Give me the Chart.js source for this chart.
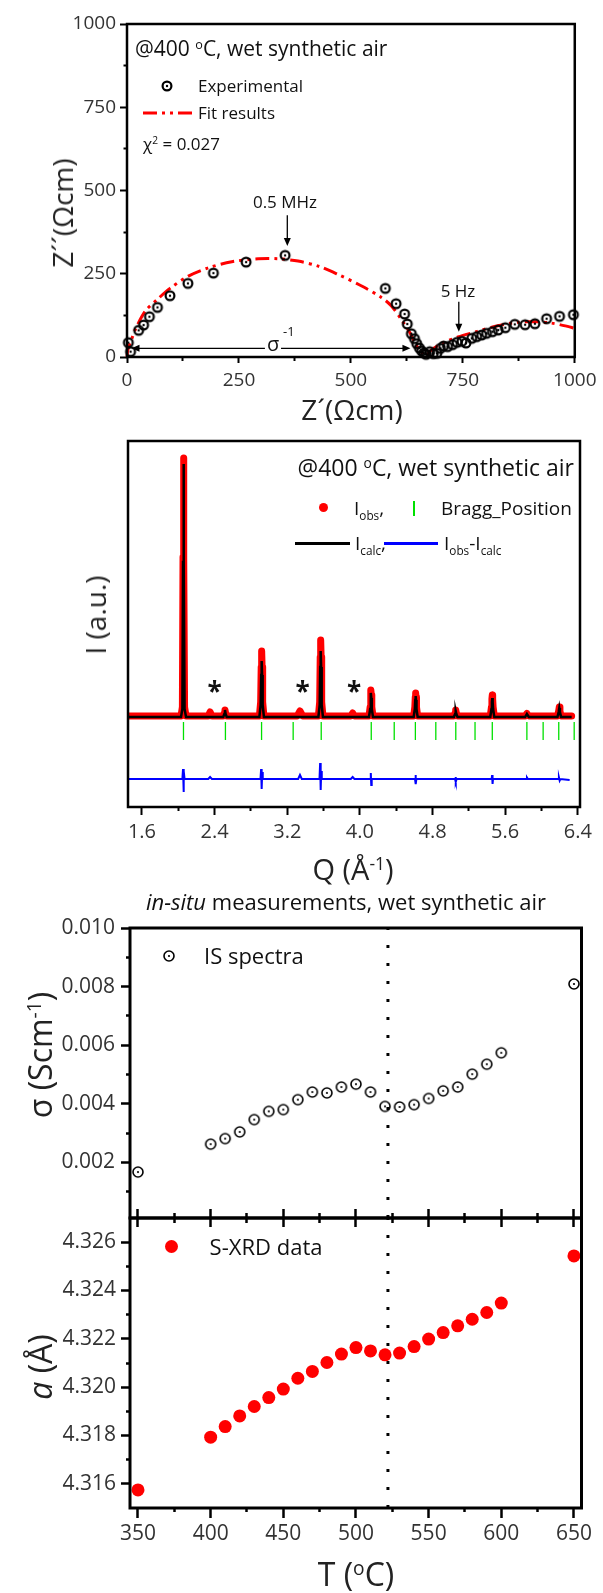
<!DOCTYPE html>
<html><head><meta charset="utf-8">
<script src="https://cdn.jsdelivr.net/npm/chart.js@4.4.1/dist/chart.umd.min.js"></script>
<style>
html,body{margin:0;padding:0;background:#fff;}
#wrap{position:relative;width:603px;height:1593px;overflow:hidden;font-family:'Open Sans',sans-serif;color:#111;}
canvas.c{position:absolute;left:0;top:0;}
.t{position:absolute;white-space:nowrap;line-height:1;}
.t sup{font-size:0.6em;position:relative;top:-0.55em;vertical-align:baseline;line-height:0;}
.t sub{font-size:0.62em;position:relative;top:0.45em;vertical-align:baseline;line-height:0;}
.m{position:absolute;}
</style></head>
<body><div id="wrap"></div>
<script>
// ---------------- DATA ----------------
// Panel 1: Nyquist plot (Z', Z'')
const nyqZre = [3, 8, 26, 37, 50, 68, 96, 136, 193, 266, 353, 577, 601, 620, 626, 635, 642, 647, 653, 658, 663, 668, 676, 684, 692, 700, 707, 716, 727, 737, 748, 757, 770, 781, 792, 803, 816, 829, 845, 866, 889, 911, 937, 966, 997];
const nyqZim = [43, 16, 80, 96, 121, 149, 184, 221, 252, 285, 305, 206, 160, 129, 99, 70, 55, 40, 27, 18, 12, 8, 16, 10, 11, 26, 33, 31, 37, 44, 47, 42, 56, 61, 66, 71, 76, 81, 88, 98, 97, 100, 115, 122, 127];
const fitZre = [0, 2, 10, 19, 41, 67, 96, 137, 182, 234, 293, 338, 382, 427, 471, 523, 568, 590, 612, 631, 646, 661, 668, 679, 702, 739, 783, 828, 872, 910, 947, 984, 1000];
const fitZim = [0, 22, 52, 84, 138, 172, 206, 243, 268, 286, 295, 295, 288, 273, 248, 214, 179, 154, 114, 75, 35, 10, 4, 20, 40, 60, 77, 94, 104, 106, 102, 92, 86];
const nyqTicks = [0, 250, 500, 750, 1000];
const nyqMinorTicks = [125, 375, 625, 875];

// Panel 2: diffraction pattern (Q, intensity a.u.)
const xrdObsQ = [1.447, 2.030, 2.045, 2.052, 2.057, 2.062, 2.069, 2.085, 2.33, 2.35, 2.37, 2.495, 2.507, 2.514, 2.521, 2.533, 2.893, 2.907, 2.913, 2.918, 2.923, 2.929, 2.943, 3.31, 3.34, 3.37, 3.543, 3.557, 3.563, 3.568, 3.573, 3.579, 3.593, 3.90, 3.92, 3.94, 4.100, 4.113, 4.118, 4.122, 4.126, 4.131, 4.144, 4.592, 4.605, 4.610, 4.614, 4.618, 4.623, 4.636, 5.035, 5.048, 5.055, 5.062, 5.075, 5.436, 5.449, 5.454, 5.458, 5.462, 5.467, 5.480, 5.82, 5.839, 5.86, 6.176, 6.189, 6.196, 6.203, 6.216, 6.332];
const xrdObsI = [91, 91, 100, 250, 349, 250, 100, 91, 91, 95, 91, 91, 94, 97, 94, 91, 91, 105, 140, 156, 140, 105, 91, 91, 96, 91, 91, 105, 150, 167, 150, 105, 91, 91, 94, 91, 91, 100, 112, 117, 112, 100, 91, 91, 100, 110, 114, 110, 100, 91, 91, 94, 97, 94, 91, 91, 100, 108, 112, 108, 100, 91, 91, 93.5, 91, 91, 96, 100, 96, 91, 91];
const xrdCalcQ = [1.447, 2.030, 2.045, 2.052, 2.057, 2.062, 2.069, 2.085, 2.495, 2.507, 2.514, 2.521, 2.533, 2.893, 2.907, 2.913, 2.918, 2.923, 2.929, 2.943, 3.543, 3.557, 3.563, 3.568, 3.573, 3.579, 3.593, 4.100, 4.113, 4.118, 4.122, 4.126, 4.131, 4.144, 4.592, 4.605, 4.610, 4.614, 4.618, 4.623, 4.636, 5.035, 5.048, 5.055, 5.062, 5.075, 5.436, 5.449, 5.454, 5.458, 5.462, 5.467, 5.480, 5.82, 5.839, 5.86, 6.176, 6.189, 6.196, 6.203, 6.216, 6.332];
const xrdCalcI = [90, 90, 98, 245, 343, 245, 98, 90, 90, 93, 97, 93, 90, 90, 102, 132, 146, 132, 102, 90, 90, 102, 140, 156, 140, 102, 90, 90, 98, 109, 114, 109, 98, 90, 90, 98, 107, 111, 107, 98, 90, 90, 93, 96, 93, 90, 90, 98, 105, 109, 105, 98, 90, 90, 93, 90, 90, 95, 99, 95, 90, 90];
const xrdDiffQ = [1.447, 2.045, 2.052, 2.057, 2.062, 2.069, 2.33, 2.35, 2.37, 2.905, 2.912, 2.918, 2.924, 2.930, 3.32, 3.34, 3.36, 3.555, 3.562, 3.568, 3.574, 3.580, 3.90, 3.92, 3.94, 4.115, 4.120, 4.125, 4.130, 4.607, 4.612, 4.617, 4.622, 5.048, 5.053, 5.058, 5.065, 5.451, 5.456, 5.461, 5.466, 5.83, 5.84, 5.85, 6.185, 6.192, 6.200, 6.208, 6.31];
const xrdDiffI = [28, 28, 38, 15, 36, 28, 28, 30, 28, 28, 38, 18, 35, 28, 28, 32, 28, 28, 44, 17, 36, 28, 28, 30, 28, 28, 34, 22, 28, 28, 32, 23, 28, 28, 30, 25, 28, 28, 32, 23, 28, 28, 29.5, 28, 28, 29.5, 26.5, 28, 27];
const braggQ = [1.447, 2.057, 2.519, 2.917, 3.265, 3.574, 4.125, 4.378, 4.611, 4.836, 5.056, 5.268, 5.458, 5.839, 6.018, 6.190, 6.360];
const qTicks = [1.6, 2.4, 3.2, 4.0, 4.8, 5.6, 6.4];
const qMinorTicks = [2.0, 2.8, 3.6, 4.4, 5.2, 6.0];

// Panels 3 & 4: in-situ vs temperature
const tempC = [350, 400, 410, 420, 430, 440, 450, 460, 470, 480, 490, 500, 510, 520, 530, 540, 550, 560, 570, 580, 590, 600, 650];
const sigma = [0.00167, 0.00262, 0.00281, 0.00304, 0.00346, 0.00374, 0.00380, 0.00414, 0.00440, 0.00437, 0.00457, 0.00467, 0.00440, 0.00391, 0.00389, 0.00397, 0.00418, 0.00444, 0.00457, 0.00501, 0.00535, 0.00574, 0.00809];
const latticeA = [4.31575, 4.31793, 4.31837, 4.31881, 4.31920, 4.31957, 4.31992, 4.32037, 4.32065, 4.32102, 4.32137, 4.32164, 4.32150, 4.32134, 4.32141, 4.32168, 4.32199, 4.32226, 4.32254, 4.32281, 4.32309, 4.32348, 4.32543];
const transitionT = 522;
const tTicks = [350, 400, 450, 500, 550, 600, 650];
const tMinorTicks = [375, 425, 475, 525, 575, 625];
const sigmaTicks = [0.002, 0.004, 0.006, 0.008, 0.010];
const sigmaMinorTicks = [0.001, 0.003, 0.005, 0.007, 0.009];
const aTicks = [4.316, 4.318, 4.320, 4.322, 4.324, 4.326];
const aMinorTicks = [4.317, 4.319, 4.321, 4.323, 4.325];

// ---------------- HELPERS ----------------
const W = 603, H = 1593;
const wrap = document.getElementById('wrap');
const FONT = "'Open Sans', sans-serif";
Chart.defaults.font.family = FONT;
function makeCanvas() { const c = document.createElement('canvas'); c.width = W; c.height = H; c.className = 'c'; wrap.appendChild(c); return c; }
function pts(xs, ys) { return xs.map((x, i) => ({x, y: ys[i]})); }
function ringMarker(r, lw, dotR) {
  const s = Math.ceil(2 * (r + lw)) + 2; const c = document.createElement('canvas'); c.width = c.height = s;
  const g = c.getContext('2d'); g.strokeStyle = '#000'; g.lineWidth = lw;
  g.beginPath(); g.arc(s / 2, s / 2, r, 0, Math.PI * 2); g.stroke();
  g.fillStyle = '#000'; g.beginPath(); g.arc(s / 2, s / 2, dotR, 0, Math.PI * 2); g.fill();
  return c;
}
// size: thickness reserved for the axis box (labels are clipped to it)
function axis(pos, min, max, tickArr, o) {
  const horiz = pos === 'bottom' || pos === 'top';
  const size = o.size || 0;
  return {
    type: 'linear', position: pos, min, max, weight: o.weight || 0,
    afterFit: s => { if (horiz) s.height = size; else s.width = size; },
    afterBuildTicks: s => { s.ticks = tickArr.map(v => ({value: v})); },
    border: {display: false},
    grid: {display: true, drawOnChartArea: false, drawTicks: true, tickLength: o.len, tickWidth: o.w, tickColor: '#000'},
    ticks: {display: !!o.font, autoSkip: false, maxRotation: 0, minRotation: 0, padding: o.pad || 0, color: '#333',
      font: {family: FONT, size: o.font || 12}, callback: o.fmt || (v => String(v))}
  };
}
const framePlugin = {
  id: 'frame',
  afterDraw(chart, args, opts) {
    const {ctx, chartArea: a} = chart; ctx.save(); ctx.strokeStyle = '#000'; ctx.lineWidth = opts.width || 2;
    ctx.strokeRect(a.left, a.top, a.right - a.left, a.bottom - a.top); ctx.restore();
  }
};
function baseOptions(pad, frameW, scales) {
  return {
    responsive: false, animation: false, devicePixelRatio: 1,
    layout: {padding: pad},
    plugins: {legend: {display: false}, tooltip: {enabled: false}, frame: {width: frameW}},
    events: [], scales
  };
}
function arrowHead(ctx, x, y, ang, len, hw) {
  ctx.save(); ctx.translate(x, y); ctx.rotate(ang);
  ctx.beginPath(); ctx.moveTo(0, 0); ctx.lineTo(-len, -hw); ctx.lineTo(-len, hw); ctx.closePath(); ctx.fill(); ctx.restore();
}
function text(html, x, y, o) {
  const d = document.createElement('div'); d.className = 't'; d.innerHTML = html;
  d.style.left = x + 'px'; d.style.top = y + 'px'; d.style.fontSize = o.size + 'px';
  if (o.color) d.style.color = o.color;
  if (o.weight) d.style.fontWeight = o.weight;
  const tx = o.align === 'center' ? '-50%' : o.align === 'right' ? '-100%' : '0';
  d.style.transform = o.rot ? 'translate(-50%,-50%) rotate(-90deg)' : `translate(${tx},-50%)`;
  wrap.appendChild(d); return d;
}
function placeEl(el, x, y) { el.classList.add('m'); el.style.left = (x - el.width / 2) + 'px'; el.style.top = (y - el.height / 2) + 'px'; wrap.appendChild(el); }
function dot(x, y, r, color) { const d = document.createElement('div'); d.className = 'm'; Object.assign(d.style, {left: (x - r) + 'px', top: (y - r) + 'px', width: 2 * r + 'px', height: 2 * r + 'px', borderRadius: '50%', background: color}); wrap.appendChild(d); }
function hline(x1, x2, y, w, color) { const d = document.createElement('div'); d.className = 'm'; Object.assign(d.style, {left: x1 + 'px', top: (y - w / 2) + 'px', width: (x2 - x1) + 'px', height: w + 'px', background: color}); wrap.appendChild(d); }
function vline(x, y1, y2, w, color) { const d = document.createElement('div'); d.className = 'm'; Object.assign(d.style, {left: (x - w / 2) + 'px', top: y1 + 'px', width: w + 'px', height: (y2 - y1) + 'px', background: color}); wrap.appendChild(d); }

const fmt1 = v => v.toFixed(1), fmt3 = v => v.toFixed(3), fmt0 = v => String(Math.round(v));

// ---------------- PANEL 1: Nyquist ----------------
const ringBig = ringMarker(4.4, 2.2, 1.2);
const nyqArrows = {
  id: 'nyqArrows',
  afterDatasetsDraw(chart) {
    const {ctx, scales: {x, y}} = chart;
    ctx.save(); ctx.strokeStyle = '#000'; ctx.fillStyle = '#000'; ctx.lineWidth = 1.3;
    let ax = x.getPixelForValue(358), ay1 = y.getPixelForValue(426), ay2 = y.getPixelForValue(333);
    ctx.beginPath(); ctx.moveTo(ax, ay1); ctx.lineTo(ax, ay2 - 6); ctx.stroke(); arrowHead(ctx, ax, ay2, Math.PI / 2, 8, 3.5);
    ax = x.getPixelForValue(741); ay1 = y.getPixelForValue(166); ay2 = y.getPixelForValue(76);
    ctx.beginPath(); ctx.moveTo(ax, ay1); ctx.lineTo(ax, ay2 - 6); ctx.stroke(); arrowHead(ctx, ax, ay2, Math.PI / 2, 8, 3.5);
    const sy = y.getPixelForValue(26);
    const l1 = x.getPixelForValue(10), l2 = x.getPixelForValue(308), r1 = x.getPixelForValue(344), r2 = x.getPixelForValue(633);
    ctx.beginPath(); ctx.moveTo(l1 + 6, sy); ctx.lineTo(l2, sy); ctx.moveTo(r1, sy); ctx.lineTo(r2 - 6, sy); ctx.stroke();
    arrowHead(ctx, l1, sy, Math.PI, 8, 3.5); arrowHead(ctx, r2, sy, 0, 8, 3.5);
    ctx.restore();
  }
};
new Chart(makeCanvas(), {
  type: 'scatter',
  data: {datasets: [
    {data: pts(nyqZre, nyqZim), pointStyle: ringBig, pointRadius: 5, showLine: false, clip: false, order: 0},
    {data: pts(fitZre, fitZim), showLine: true, borderColor: '#ff0000', borderWidth: 3, borderDash: [14, 5, 3, 5, 3, 5], tension: 0.3, pointRadius: 0, clip: false, order: 1}
  ]},
  options: baseOptions({left: 0, top: 24, right: W - 577, bottom: 0}, 2.5, {
    x: axis('bottom', 0, 1000, nyqTicks, {len: 6, w: 2, font: 19, pad: 6.5, fmt: fmt0, weight: 1, size: H - 357}),
    xm: axis('bottom', 0, 1000, nyqMinorTicks, {len: 4, w: 2, weight: 0}),
    y: axis('left', 0, 1000, nyqTicks, {len: 7, w: 2, font: 19, pad: 4, fmt: fmt0, weight: 1, size: 127}),
    ym: axis('left', 0, 1000, nyqMinorTicks, {len: 3.5, w: 2, weight: 0})
  }),
  plugins: [framePlugin, nyqArrows]
});

// ---------------- PANEL 2: XRD ----------------
new Chart(makeCanvas(), {
  type: 'scatter',
  data: {datasets: [
    {data: pts(xrdCalcQ, xrdCalcI), showLine: true, borderColor: '#000', borderWidth: 2.5, pointRadius: 0, order: 0},
    {data: pts(xrdObsQ, xrdObsI), showLine: true, borderColor: '#ff0000', borderWidth: 7, borderJoinStyle: 'round', borderCapStyle: 'round', pointRadius: 0, order: 1},
    {data: pts(xrdDiffQ, xrdDiffI), showLine: true, borderColor: '#0000ff', borderWidth: 2, pointRadius: 0, order: 2},
    {data: braggQ.map(q => ({x: q, y: 76})), showLine: false, pointStyle: 'line', rotation: 90, pointRadius: 9, borderWidth: 1.3, borderColor: '#00e000', clip: false, order: 3}
  ]},
  options: baseOptions({left: 128, top: 441, right: W - 580, bottom: 0}, 2.5, {
    x: axis('bottom', 1.446, 6.424, qTicks, {len: 8, w: 2, font: 20, pad: 5, fmt: fmt1, weight: 1, size: H - 807}),
    xm: axis('bottom', 1.446, 6.424, qMinorTicks, {len: 4, w: 2, weight: 0}),
    y: {type: 'linear', display: false, min: 0, max: 366}
  }),
  plugins: [framePlugin]
});

// ---------------- PANEL 3: conductivity ----------------
const ringSmall = ringMarker(5, 1.6, 1.1);
const SIG_MIN = 0.0001, SIG_MAX = 0.010;
new Chart(makeCanvas(), {
  type: 'scatter',
  data: {datasets: [
    {data: pts(tempC, sigma), pointStyle: ringSmall, pointRadius: 6, showLine: false, clip: false, order: 0},
    {data: [{x: transitionT, y: SIG_MIN}, {x: transitionT, y: SIG_MAX}], showLine: true, borderColor: '#000', borderWidth: 3, borderDash: [3, 15], pointRadius: 0, order: 1}
  ]},
  options: baseOptions({left: 0, top: 928, right: W - 581.5, bottom: H - 1218}, 3, {
    x: axis('bottom', 344.5, 655.2, tTicks, {len: 9, w: 2.5, weight: 1}),
    xm: axis('bottom', 344.5, 655.2, tMinorTicks, {len: 5, w: 2.5, weight: 0}),
    y: axis('left', SIG_MIN, SIG_MAX, sigmaTicks, {len: 9, w: 2.5, font: 21, pad: 6, fmt: fmt3, weight: 1, size: 130}),
    ym: axis('left', SIG_MIN, SIG_MAX, sigmaMinorTicks, {len: 4, w: 2.5, weight: 0})
  }),
  plugins: [framePlugin]
});

// ---------------- PANEL 4: lattice parameter ----------------
const A_MIN = 4.315, A_MAX = 4.327;
new Chart(makeCanvas(), {
  type: 'scatter',
  data: {datasets: [
    {data: pts(tempC, latticeA), pointStyle: 'circle', pointRadius: 6.5, backgroundColor: '#ff0000', borderWidth: 0, showLine: false, clip: false, order: 0},
    {data: [{x: transitionT, y: A_MIN}, {x: transitionT, y: A_MAX}], showLine: true, borderColor: '#000', borderWidth: 3, borderDash: [3, 15], pointRadius: 0, order: 1}
  ]},
  options: baseOptions({left: 0, top: 1218, right: W - 581.5, bottom: 0}, 3, {
    x: axis('bottom', 344.5, 655.2, tTicks, {len: 10, w: 2.5, font: 21, pad: 3.5, fmt: fmt0, weight: 1, size: H - 1508}),
    xm: axis('bottom', 344.5, 655.2, tMinorTicks, {len: 4, w: 2.5, weight: 0}),
    xt: axis('top', 344.5, 655.2, tTicks, {len: 9, w: 2.5, weight: 1}),
    xtm: axis('top', 344.5, 655.2, tMinorTicks, {len: 5, w: 2.5, weight: 0}),
    y: axis('left', A_MIN, A_MAX, aTicks, {len: 9, w: 2.5, font: 21, pad: 5, fmt: fmt3, weight: 1, size: 130}),
    ym: axis('left', A_MIN, A_MAX, aMinorTicks, {len: 4, w: 2.5, weight: 0})
  }),
  plugins: [framePlugin]
});

// ---------------- TEXT & LEGENDS ----------------
// Panel 1
text('@400 <sup>o</sup>C, wet synthetic air', 135, 48, {size: 21});
placeEl(ringMarker(4.4, 2.2, 1.2), 167, 86);
text('Experimental', 198, 85, {size: 17});
(function () {
  const ns = 'http://www.w3.org/2000/svg'; const s = document.createElementNS(ns, 'svg');
  s.setAttribute('width', '60'); s.setAttribute('height', '8'); s.style.position = 'absolute'; s.style.left = '141px'; s.style.top = '109px';
  const l = document.createElementNS(ns, 'line'); l.setAttribute('x1', '2'); l.setAttribute('x2', '54'); l.setAttribute('y1', '4'); l.setAttribute('y2', '4');
  l.setAttribute('stroke', '#ff0000'); l.setAttribute('stroke-width', '3'); l.setAttribute('stroke-dasharray', '14 5 3 5 3 5');
  s.appendChild(l); wrap.appendChild(s);
})();
text('Fit results', 198, 112, {size: 17});
text('χ<sup>2</sup> = 0.027', 143, 143, {size: 17});
text('0.5 MHz', 285, 201, {size: 17, align: 'center'});
text('5 Hz', 458, 290, {size: 17, align: 'center'});
text('σ', 273, 344, {size: 20, align: 'center'});
text('-1', 283, 331, {size: 13});
text('Z´´(Ωcm)', 62, 213, {size: 28, rot: true, color: '#222'});
text('Z´(Ωcm)', 352, 409, {size: 28, align: 'center', color: '#222'});

// Panel 2
text('@400 <sup>o</sup>C, wet synthetic air', 574, 467, {size: 23, align: 'right'});
dot(323, 507, 4.5, '#ff0000');
text('I<sub>obs</sub>,', 354, 508, {size: 19});
vline(414, 501, 516, 1.3, '#00e000');
text('Bragg_Position', 441, 508, {size: 19});
hline(295, 350, 543, 3, '#000');
text('I<sub>calc</sub>,', 355, 543, {size: 19});
hline(384, 438, 543, 3, '#0000ff');
text('I<sub>obs</sub>-I<sub>calc</sub>', 444, 543, {size: 19});
text('*', 214.6, 691, {size: 26, align: 'center', weight: 'bold'});
text('*', 302.7, 691, {size: 26, align: 'center', weight: 'bold'});
text('*', 354, 691, {size: 26, align: 'center', weight: 'bold'});
text('I (a.u.)', 95, 615, {size: 28, rot: true, color: '#222'});
text('Q (Å<sup>-1</sup>)', 353, 868, {size: 29, align: 'center', color: '#222'});

// Panels 3 & 4
text('<i>in-situ</i> measurements, wet synthetic air', 346, 901, {size: 22, align: 'center'});
placeEl(ringMarker(5, 1.6, 1.1), 169, 956);
text('IS spectra', 204, 955, {size: 22});
dot(171, 1246.5, 6.5, '#ff0000');
text('S-XRD data', 209.6, 1246, {size: 22});
text('σ (Scm<sup>-1</sup>)', 40, 1055, {size: 32, rot: true, color: '#222'});
text('<i>a</i> (Å)', 40, 1367, {size: 32, rot: true, color: '#222'});
text('T (<sup>o</sup>C)', 356, 1574, {size: 32, align: 'center', color: '#222'});
</script>
</body></html>
